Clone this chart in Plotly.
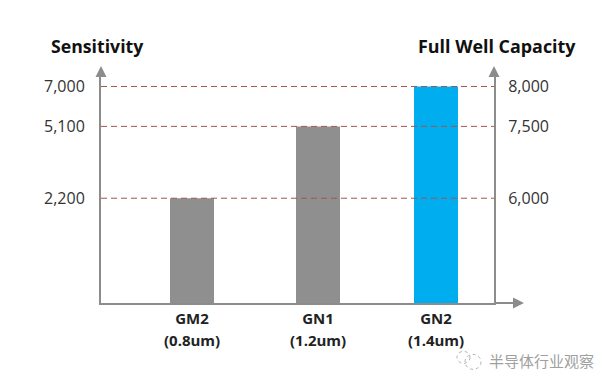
import plotly.graph_objects as go

# Data
categories = ["GM2", "GN1", "GN2"]
pixel_sizes = ["(0.8um)", "(1.2um)", "(1.4um)"]
bar_centers = [192, 318, 436]            # the chart is schematic: bars are unevenly spaced
bar_heights = [105, 177, 217]            # schematic heights, the axes are not linear
sensitivity_labels = ["2,200", "5,100", "7,000"]
full_well_labels = ["6,000", "7,500", "8,000"]
bar_colors = ["#8f8f8f", "#8f8f8f", "#00aeef"]

PAGE_INSET = 8                           # default body margin of the page
W, H = 612 - 2 * PAGE_INSET, 387 - 2 * PAGE_INSET
L, R, T, B = 101, 494, 72, 303.5         # plot edges measured on the page
AXIS = "#8c8c8c"
DASH = "#a5544f"
FONT = "Open Sans, Noto Sans, sans-serif"
TEXT = "#333333"


def px(x):
    return (x - L) / (R - L)


def py(y):
    return (B - y) / (B - T)


fig = go.Figure()
fig.add_trace(go.Bar(x=bar_centers, y=bar_heights, width=44,
                     marker=dict(color=bar_colors, line_width=0),
                     hoverinfo="skip", showlegend=False))
# invisible trace that activates the right-hand axis
fig.add_trace(go.Scatter(x=bar_centers, y=bar_heights, yaxis="y2", mode="none",
                         hoverinfo="skip", showlegend=False))

fig.update_layout(
    width=W, height=H, autosize=False,
    margin=dict(l=L - PAGE_INSET, r=W + PAGE_INSET - R, t=T - PAGE_INSET, b=H + PAGE_INSET - B, pad=0),
    paper_bgcolor="white", plot_bgcolor="white",
    font=dict(family=FONT, color=TEXT),
    xaxis=dict(range=[L, R], tickmode="array", tickvals=bar_centers, ticktext=categories,
               showgrid=False, zeroline=False, showline=True, linecolor=AXIS, linewidth=2,
               ticks="", ticklabelstandoff=1,
               tickfont=dict(family=FONT, size=15, color="#222222", weight="bold")),
    yaxis=dict(range=[0, B - T], tickmode="array", tickvals=bar_heights, ticktext=sensitivity_labels,
               showgrid=False, zeroline=False, showline=True, linecolor=AXIS, linewidth=2,
               ticks="", ticklabelstandoff=11, tickfont=dict(family=FONT, size=16, color=TEXT)),
    yaxis2=dict(range=[0, B - T], overlaying="y", side="right", tickmode="array",
                tickvals=bar_heights, ticktext=full_well_labels,
                showgrid=False, zeroline=False, showline=True, linecolor=AXIS, linewidth=2,
                ticks="", ticklabelstandoff=9, tickfont=dict(family=FONT, size=16, color=TEXT)),
)

# Dashed guides, above the bars
for h in bar_heights:
    fig.add_shape(type="line", xref="paper", yref="y", x0=0, x1=1, y0=h, y1=h,
                  line=dict(color=DASH, width=1, dash="6px,4px"), layer="above")

annotations = []
# Second line of the category labels
for c, s in zip(bar_centers, pixel_sizes):
    annotations.append(dict(x=c, xref="x", y=py(341), yref="paper", text=s, showarrow=False,
                            font=dict(family=FONT, size=15, color="#222222", weight="bold"),
                            xanchor="center", yanchor="middle"))
# Axis titles
annotations.append(dict(x=px(49), y=py(46), xref="paper", yref="paper", text="<b>Sensitivity</b>",
                        showarrow=False, xanchor="left", yanchor="middle",
                        font=dict(family=FONT, size=17.7, color="#111111")))
annotations.append(dict(x=px(578), y=py(46), xref="paper", yref="paper", text="<b>Full Well Capacity</b>",
                        showarrow=False, xanchor="right", yanchor="middle",
                        font=dict(family=FONT, size=17.9, color="#111111")))
# Watermark
annotations.append(dict(x=px(487), y=py(361), xref="paper", yref="paper", text="半导体行业观察",
                        showarrow=False, xanchor="left", yanchor="middle",
                        font=dict(family="Noto Sans CJK SC", size=15, color="#a0a0a0")))
# Axis arrow heads (offsets in pixels from tail to tip)
for (x0, y0, x1, y1) in [(L, T + 4, L, 66), (R, T + 4, R, 66), (R, B, 524, B)]:
    annotations.append(dict(x=px(x1), y=py(y1), ax=x0 - x1, ay=y0 - y1, xref="paper", yref="paper",
                            text="", showarrow=True, arrowhead=2,
                            arrowsize=1.1, arrowwidth=2, arrowcolor=AXIS, standoff=0))
fig.update_layout(annotations=annotations)

# Watermark logo: two dotted rings
for (x0, y0, x1, y1) in [(457, 352, 470, 364), (465, 355, 481, 370)]:
    fig.add_shape(type="circle", xref="paper", yref="paper",
                  x0=px(x0), x1=px(x1), y0=py(y0), y1=py(y1),
                  line=dict(color="#b0b0b0", width=1, dash="dot"))

fig.write_html("out.html")
